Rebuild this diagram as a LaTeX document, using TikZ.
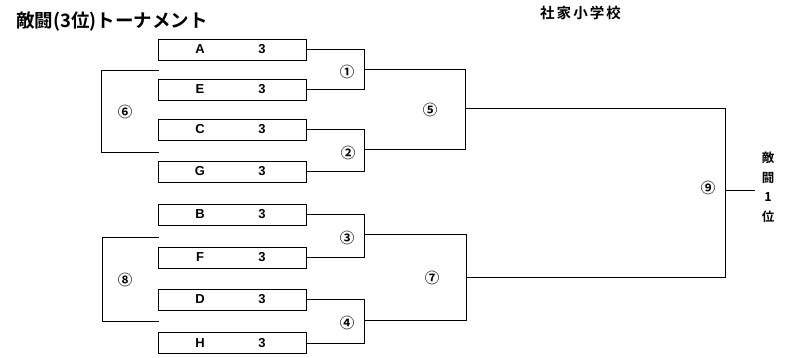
\documentclass[tikz,border=0pt]{standalone}
\usepackage{fontspec}
\setmainfont{Noto Sans CJK JP}
\newfontfamily\jpbold{Noto Sans CJK JP Bold}
\newfontfamily\jpspaced[LetterSpace=14]{Noto Sans CJK JP Bold}
\newfontfamily\latinb{Liberation Sans Bold}
\begin{document}
\begin{tikzpicture}[x=1pt,y=-1pt,
  entry/.style={draw,line width=0.9pt,minimum width=148pt,minimum height=21pt,inner sep=0pt},
  conn/.style={line width=0.8pt},
  rlabel/.style={font=\jpbold\fontsize{14.5}{14.5}\selectfont,inner sep=0pt},
  lettertxt/.style={font=\latinb\fontsize{13}{13}\selectfont,inner sep=0pt}]
\useasboundingbox[fill=white] (0,0) rectangle (794,357);
% title texts
\node[anchor=west,inner sep=0pt,font=\jpbold\fontsize{18.5}{18.5}\selectfont] (title) at (16,22) {敵闘(3位)トーナメント};
\node[anchor=west,inner sep=0pt,font=\jpspaced\fontsize{14.5}{14.5}\selectfont] (school) at (540,13) {社家小学校};
% entry boxes
\foreach \n/\yy in {A/49.5,E/89.5,C/129.5,G/171.5,B/214.5,F/257.5,D/299.5,H/343}{
  \node[entry] (\n) at (232,\yy) {};
  \node[lettertxt] (\n l) at (200,\yy) {\n};
  \node[lettertxt] (\n n) at (262,\yy) {3};
}
% junction coordinates
\coordinate (j1a) at (364,49.5); \coordinate (j1b) at (364,89.5); \coordinate (j1o) at (364,69);
\coordinate (j2a) at (364,129.5); \coordinate (j2b) at (364,171.5); \coordinate (j2o) at (364,149);
\coordinate (j3a) at (364,214.5); \coordinate (j3b) at (364,257.5); \coordinate (j3o) at (364,234);
\coordinate (j4a) at (364,299.5); \coordinate (j4b) at (364,343); \coordinate (j4o) at (364,320);
\coordinate (j5a) at (465,69); \coordinate (j5b) at (465,149); \coordinate (j5o) at (465,108);
\coordinate (j7a) at (466,234); \coordinate (j7b) at (466,320); \coordinate (j7o) at (466,277);
\coordinate (j9a) at (725,108); \coordinate (j9b) at (725,277); \coordinate (j9o) at (725,190);
\coordinate (win) at (755,190);
\coordinate (s6a) at (159,70); \coordinate (s6b) at (101,70); \coordinate (s6c) at (101,152); \coordinate (s6d) at (159,152);
\coordinate (s8a) at (159,237); \coordinate (s8b) at (102,237); \coordinate (s8c) at (102,321); \coordinate (s8d) at (159,321);
% connectors
\draw[conn] (A.east) -- (j1a) -- (j1b) -- (E.east);
\draw[conn] (C.east) -- (j2a) -- (j2b) -- (G.east);
\draw[conn] (B.east) -- (j3a) -- (j3b) -- (F.east);
\draw[conn] (D.east) -- (j4a) -- (j4b) -- (H.east);
\draw[conn] (j1o) -- (j5a) -- (j5b) -- (j2o);
\draw[conn] (j3o) -- (j7a) -- (j7b) -- (j4o);
\draw[conn] (j5o) -- (j9a) -- (j9b) -- (j7o);
\draw[conn] (j9o) -- (win);
\draw[conn] (s6a) -- (s6b) -- (s6c) -- (s6d);
\draw[conn] (s8a) -- (s8b) -- (s8c) -- (s8d);
% round labels
\node[rlabel] (m1) at (347,72) {①};
\node[rlabel] (m2) at (348,153) {②};
\node[rlabel] (m3) at (347,238) {③};
\node[rlabel] (m4) at (347,323) {④};
\node[rlabel] (m5) at (430,110) {⑤};
\node[rlabel] (m6) at (125,112) {⑥};
\node[rlabel] (m7) at (432,278) {⑦};
\node[rlabel] (m8) at (125,280) {⑧};
\node[rlabel] (m9) at (708,188) {⑨};
% winner label
\node[inner sep=0pt,font=\jpbold\fontsize{12.5}{19.5}\selectfont,align=center] (winner) at (768,187) {敵\\闘\\1\\位};
\end{tikzpicture}
\end{document}
